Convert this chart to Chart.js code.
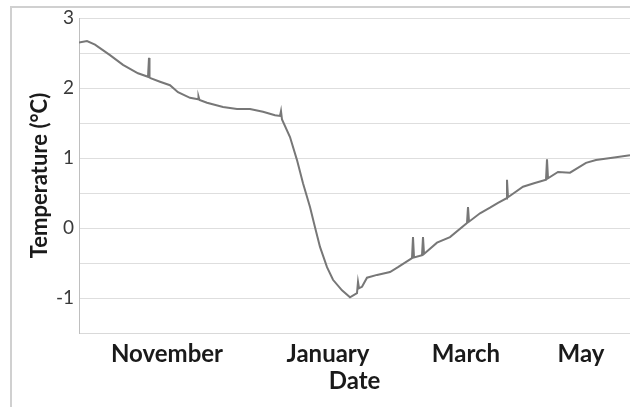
<!DOCTYPE html>
<html>
<head>
<meta charset="utf-8">
<script src="https://cdn.jsdelivr.net/npm/chart.js@4/dist/chart.umd.min.js"></script>
<style>
  body { margin: 0; background: #fff; }
  #wrap { position: relative; width: 630px; height: 407px; overflow: hidden; }
  #frame { position: absolute; left: 10px; top: 6px; width: 700px; height: 500px; border: 2px solid #d0d0d0; }
  #tempChart { position: absolute; left: 0; top: 0; }
</style>
</head>
<body>
<div id="wrap">
  <div id="frame"></div>
  <canvas id="tempChart" width="630" height="407"></canvas>
</div>
<script>
// Days since start of record
var days = [0, 3.2, 6.4, 12.4, 17.6, 23.6, 27.6, 28, 28.2, 28.6, 32.4, 36.4, 39.6, 44.4,
  47.6, 47.8, 48.2, 51.2, 57.6, 63.2, 68.4, 73.6, 78.4, 80.4, 80.8, 81.2, 84.4, 87.2, 89.6,
  92.4, 94.4, 96.4, 99.2, 101.6, 105.2, 108.4, 111.2, 111.6, 112, 113.2, 115.2, 119.2, 124.4,
  127.6, 133.2, 133.6, 134, 137.2, 137.6, 138, 143.2, 148.4, 155.2, 155.6, 156, 160.4,
  164.4, 167.6, 170.8, 171.2, 171.6, 177.6, 182, 186.8, 187.2, 187.6, 191.6, 196.4, 202.8,
  206.8, 214.8, 220.4];

// Temperature (°C)
var temps = [2.65, 2.67, 2.62, 2.47, 2.33, 2.21, 2.16, 2.43, 2.15, 2.14, 2.09, 2.04, 1.94,
  1.86, 1.84, 1.88, 1.83, 1.79, 1.73, 1.7, 1.7, 1.66, 1.61, 1.6, 1.67, 1.55, 1.3, 0.97, 0.64,
  0.3, 0.01, -0.27, -0.56, -0.74, -0.89, -0.99, -0.93, -0.77, -0.86, -0.84, -0.71, -0.67,
  -0.63, -0.56, -0.43, -0.13, -0.42, -0.39, -0.13, -0.37, -0.21, -0.13, 0.07, 0.3, 0.09,
  0.21, 0.29, 0.36, 0.42, 0.69, 0.44, 0.59, 0.64, 0.69, 0.98, 0.71, 0.8, 0.79, 0.93,
  0.97, 1.01, 1.04];

// Month labels on the date axis
var tickDays = [35.2, 99.6, 154.8, 200.8];
var tickLabels = ["November", "January", "March", "May"];

var points = days.map(function (d, i) {
  return { x: d, y: temps[i] };
});

var ctx = document.getElementById("tempChart").getContext("2d");

var myChart = new Chart(ctx, {
  type: "line",
  data: {
    datasets: [
      {
        data: points,
        borderColor: "#777777",
        borderWidth: 2,
        pointRadius: 0,
        tension: 0,
      },
    ],
  },
  options: {
    responsive: false,
    animation: false,
    layout: { padding: { top: 18, right: 0, left: 0, bottom: 0 } },
    plugins: {
      legend: { display: false },
      tooltip: { enabled: false },
    },
    scales: {
      x: {
        type: "linear",
        min: 0,
        max: 220.4,
        grid: { display: false, drawTicks: true, tickLength: 4 },
        border: { display: true, color: "#d9d9d9" },
        afterBuildTicks: function (scale) {
          scale.ticks = tickDays.map(function (v) { return { value: v }; });
        },
        afterFit: function (scale) { scale.height = 74; },
        ticks: {
          autoSkip: false,
          maxRotation: 0,
          padding: 3,
          color: "#1a1a1a",
          font: { family: "Lato", size: 24, weight: "bold" },
          callback: function (value, index) { return tickLabels[index]; },
        },
        title: {
          display: true,
          text: "Date",
          color: "#1a1a1a",
          font: { family: "Lato", size: 24, weight: "bold" },
          padding: { top: 0, bottom: 11 },
        },
      },
      y: {
        min: -1.5,
        max: 3,
        grid: { color: "#dedede", drawTicks: false },
        border: { color: "#bfbfbf" },
        afterFit: function (scale) { scale.width = 79; },
        ticks: {
          stepSize: 0.5,
          padding: 5,
          color: "#3a3a3a",
          font: { family: "Lato", size: 19 },
          callback: function (value) { return Number.isInteger(value) ? value : ""; },
        },
        title: {
          display: true,
          text: "Temperature (°C)",
          color: "#1a1a1a",
          font: { family: "Lato", size: 22, weight: "bold" },
          padding: { top: 27, bottom: 0 },
        },
      },
    },
  },
});
</script>
</body>
</html>
